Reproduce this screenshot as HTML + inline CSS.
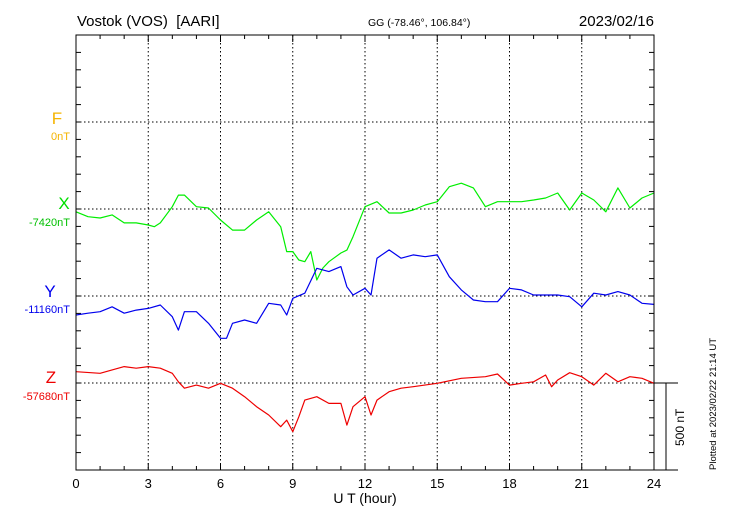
<!DOCTYPE html>
<html><head><meta charset="utf-8">
<style>
body{margin:0;background:#fff;}
svg{display:block;font-family:"Liberation Sans",sans-serif;}
</style></head>
<body>
<svg id="chart" width="730" height="520" viewBox="0 0 730 520" xmlns="http://www.w3.org/2000/svg">
<text x="77" y="26" font-size="15" style="white-space:pre">Vostok (VOS)  [AARI]</text>
<text x="368" y="26" font-size="10.5">GG (-78.46°, 106.84°)</text>
<text x="654" y="26" font-size="15" text-anchor="end">2023/02/16</text>
<text transform="translate(716,470) rotate(-90)" font-size="9.5">Plotted at 2023/02/22 21:14 UT</text>
<g id="grid"></g>
<g id="series"></g>
<rect x="76" y="35" width="578" height="435" fill="none" stroke="#000" stroke-width="1"/>
<line x1="654" y1="470" x2="678" y2="470" stroke="#000"/>
<line x1="654" y1="383" x2="678" y2="383" stroke="#000"/>
<line x1="666" y1="383" x2="666" y2="470" stroke="#000"/>
<text transform="translate(684,446) rotate(-90)" font-size="12">500 nT</text>
<text x="365" y="503" font-size="14" text-anchor="middle">U T (hour)</text>
<text x="57" y="124" font-size="17" fill="#f5b400" text-anchor="middle">F</text>
<text x="70" y="140" font-size="11" fill="#f5b400" text-anchor="end">0nT</text>
<text x="64" y="209" font-size="17" fill="#00e000" text-anchor="middle">X</text>
<text x="70" y="226" font-size="11" fill="#00c000" text-anchor="end">-7420nT</text>
<text x="50" y="297" font-size="17" fill="#0000ee" text-anchor="middle">Y</text>
<text x="70" y="313" font-size="11" fill="#0000ee" text-anchor="end">-11160nT</text>
<text x="51" y="383" font-size="17" fill="#ee0000" text-anchor="middle">Z</text>
<text x="70" y="400" font-size="11" fill="#ee0000" text-anchor="end">-57680nT</text>
</svg>
<script>
const xTickLabels = [0,3,6,9,12,15,18,21,24];
const xTimes = [0,0.5,1,1.5,2,2.5,3,3.25,3.5,4,4.25,4.5,5,5.5,6,6.5,7,7.5,8,8.5,8.75,9,9.25,9.5,9.75,10,10.25,10.5,11,11.25,11.5,12,12.5,13,13.5,14,14.5,15,15.5,16,16.5,17,17.5,18,18.5,19,19.5,20,20.5,21,21.5,22,22.5,23,23.5,24];
const xValues = [-16,-44,-52,-34,-80,-80,-92,-102,-80,13,80,80,13,6,-63,-121,-121,-63,-16,-102,-245,-245,-293,-303,-245,-408,-339,-303,-253,-236,-159,13,42,-23,-23,-6,23,42,128,148,121,13,42,42,42,52,63,92,-6,92,52,-16,121,6,63,92];
const yTimes = [0,0.5,1,1.5,2,2.5,3,3.5,4,4.25,4.5,5,5.5,6,6.25,6.5,7,7.5,8,8.5,8.75,9,9.5,10,10.5,11,11.25,11.5,12,12.25,12.5,13,13.5,14,14.5,15,15.5,16,16.5,17,17.5,18,18.5,19,19.5,20,20.5,21,21.5,22,22.5,23,23.5,24];
const yValues = [-109,-99,-90,-62,-99,-81,-71,-52,-119,-196,-90,-90,-157,-243,-243,-157,-138,-157,-42,-52,-109,-13,16,159,140,169,53,6,44,6,217,265,217,236,226,236,111,35,-23,-33,-33,44,35,6,6,6,-4,-62,16,6,25,6,-42,-48];
const zTimes = [0,1,1.5,2,2.5,3,3.5,4,4.25,4.5,5,5.5,6,6.5,7,7.5,8,8.5,8.75,9,9.25,9.5,10,10.5,11,11.25,11.5,12,12.25,12.5,13,13.5,14,15,16,17,17.5,18,18.5,19,19.5,19.75,20,20.5,21,21.5,22,22.5,23,23.5,24];
const zValues = [65,56,75,94,85,94,85,56,7,-30,-12,-30,-2,-30,-79,-136,-184,-251,-213,-280,-194,-98,-79,-117,-117,-242,-136,-79,-184,-98,-50,-30,-21,-2,27,36,52,-12,-2,7,46,-21,17,59,36,-12,56,7,36,27,-2];

const NS='http://www.w3.org/2000/svg';
const X0=76,X1=654,Y0=35,Y1=470,PXNT=87/500;
const xs=h=>X0+h*(X1-X0)/24;
const ys=(base,v)=>base-v*PXNT;
const grid=document.getElementById('grid');
const ser=document.getElementById('series');
function mk(tag,attrs,parent){const e=document.createElementNS(NS,tag);for(const k in attrs)e.setAttribute(k,attrs[k]);parent.appendChild(e);return e;}
[122,209,296,383].forEach(y=>{
  const l=mk('line',{x1:X0,x2:X1,y1:y,y2:y,stroke:'#000','stroke-dasharray':'1.5,2.5'},grid);
  
  
});
for(let y=Y0+87/5;y<Y1-1;y+=87/5){
  mk('line',{x1:X0,x2:X0+5,y1:y,y2:y,stroke:'#000'},grid);
  mk('line',{x1:X1-5,x2:X1,y1:y,y2:y,stroke:'#000'},grid);
}
for(let h=1;h<24;h++){
  const x=xs(h);
  if(h%3===0){
    const l=mk('line',{x1:x,x2:x,y1:Y0,y2:Y1,stroke:'#000','stroke-dasharray':'1.5,2.5'},grid);
    
    
    mk('line',{x1:x,x2:x,y1:Y1-7,y2:Y1,stroke:'#000'},grid);
    mk('line',{x1:x,x2:x,y1:Y0,y2:Y0+7,stroke:'#000'},grid);
  } else {
    mk('line',{x1:x,x2:x,y1:Y1-4,y2:Y1,stroke:'#000'},grid);
    mk('line',{x1:x,x2:x,y1:Y0,y2:Y0+4,stroke:'#000'},grid);
  }
}
xTickLabels.forEach(h=>{
  const t=mk('text',{x:xs(h),y:488,'font-size':13,'text-anchor':'middle'},grid);
  t.textContent=h;
  
  
});
function line(times,vals,base,color,name){
  const d=times.map((t,i)=>(i?'L':'M')+xs(t).toFixed(1)+','+ys(base,vals[i]).toFixed(1)).join('');
  const p=mk('path',{d:d,fill:'none',stroke:color,'stroke-width':1.2,'stroke-linejoin':'round'},ser);
  
  
}
line(xTimes,xValues,209,'#00ee00','x-component-line');
line(yTimes,yValues,296,'#0000ee','y-component-line');
line(zTimes,zValues,383,'#ee0000','z-component-line');
</script>
</body></html>
